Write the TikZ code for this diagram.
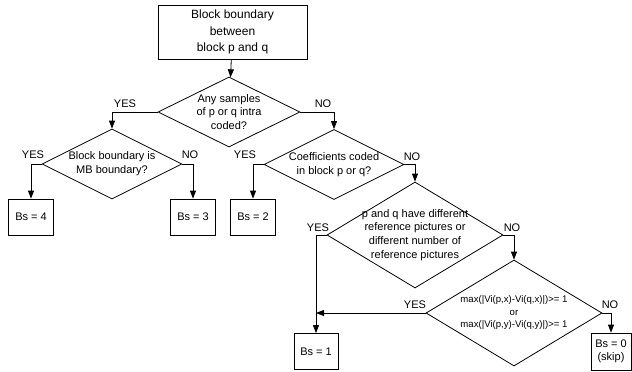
\documentclass[tikz,border=0pt]{standalone}
\usepackage{fontspec}
\setmainfont{Liberation Sans}
\usetikzlibrary{shapes.geometric,arrows.meta}

\begin{document}
\begin{tikzpicture}[x=1pt,y=-1pt,
  line width=0.8pt,
  box/.style={draw, rectangle, inner sep=0pt, minimum width=#1},
  smallbox/.style={box=45pt, minimum height=36pt, font=\fontsize{11}{13.5}\selectfont, align=center},
  dia/.style={draw, diamond, inner sep=0pt},
  dtext/.style={font=\fontsize{11}{13.7}\selectfont, align=center, inner sep=0pt},
  lab/.style={font=\fontsize{11}{13}\selectfont, inner sep=0pt},
  arr/.style={-{Triangle[length=8pt,width=6pt]}},
]
\useasboundingbox (0,0) rectangle (632,372);

% start box
\node[box=149pt, minimum height=54pt, font=\fontsize{12}{16.3}\selectfont, align=center]
  (start) at (232.5,32) {Block boundary\\between\\block p and q};

% decisions
\node[dia, minimum width=142pt, minimum height=70pt] (q1) at (229,112) {};
\node[dtext] (q1t) at (q1) {Any samples\\of p or q intra\\coded?};

\node[dia, minimum width=140pt, minimum height=70pt] (q2) at (112,164) {};
\node[dtext] (q2t) at (q2) {Block boundary is\\MB boundary?};

\node[dia, minimum width=140pt, minimum height=70pt] (q3) at (334,164.5) {};
\node[dtext] (q3t) at (q3) {Coefficients coded\\in block p or q?};

\node[dia, minimum width=176pt, minimum height=106pt] (q4) at (415,235) {};
\node[dtext] (q4t) at (q4) {p and q have different\\reference pictures or\\different number of\\reference pictures};

\node[dia, minimum width=176pt, minimum height=106pt] (q5) at (514,313) {};
\node[dtext, font=\fontsize{9.6}{12.5}\selectfont] (q5t) at (q5)
  {max(|Vi(p,x)-Vi(q,x)|)>= 1\\or\\max(|Vi(p,y)-Vi(q,y)|)>= 1};

% results
\node[smallbox] (b4) at (31,217) {Bs = 4};
\node[smallbox] (b3) at (193,217) {Bs = 3};
\node[smallbox] (b2) at (253,217) {Bs = 2};
\node[smallbox, minimum width=44pt] (b1) at (316,351.5) {Bs = 1};
\node[smallbox, minimum width=40pt, minimum height=37pt] (b0) at (611,351.5) {Bs = 0\\(skip)};
\coordinate (m1) at (316,313);

% connectors
\draw[arr] (start) -- (q1);
\draw[arr] (q1.west) -| (q2.north);
\draw[arr] (q1.east) -| (q3.north);
\draw[arr] (q2.west) -| (b4.north);
\draw[arr] (q2.east) -| (b3.north);
\draw[arr] (q3.west) -| (b2.north);
\draw[arr] (q3.east) -| (q4.north);
\draw[arr] (q4.west) -| (b1.north);
\draw[arr] (q4.east) -| (q5.north);
\draw[arr] (q5.west) -- (m1);
\draw[arr] (q5.east) -| (b0.north);

% branch labels
\node[lab] (y1) at (125,104) {YES};
\node[lab] (n1) at (323,104) {NO};
\node[lab] (y2) at (33,155) {YES};
\node[lab] (n2) at (190,155) {NO};
\node[lab] (y3) at (245,155) {YES};
\node[lab] (n3) at (412,157) {NO};
\node[lab] (y4) at (318,228) {YES};
\node[lab] (n4) at (512,228) {NO};
\node[lab] (y5) at (415,305) {YES};
\node[lab] (n5) at (610,305) {NO};
\end{tikzpicture}
\end{document}
